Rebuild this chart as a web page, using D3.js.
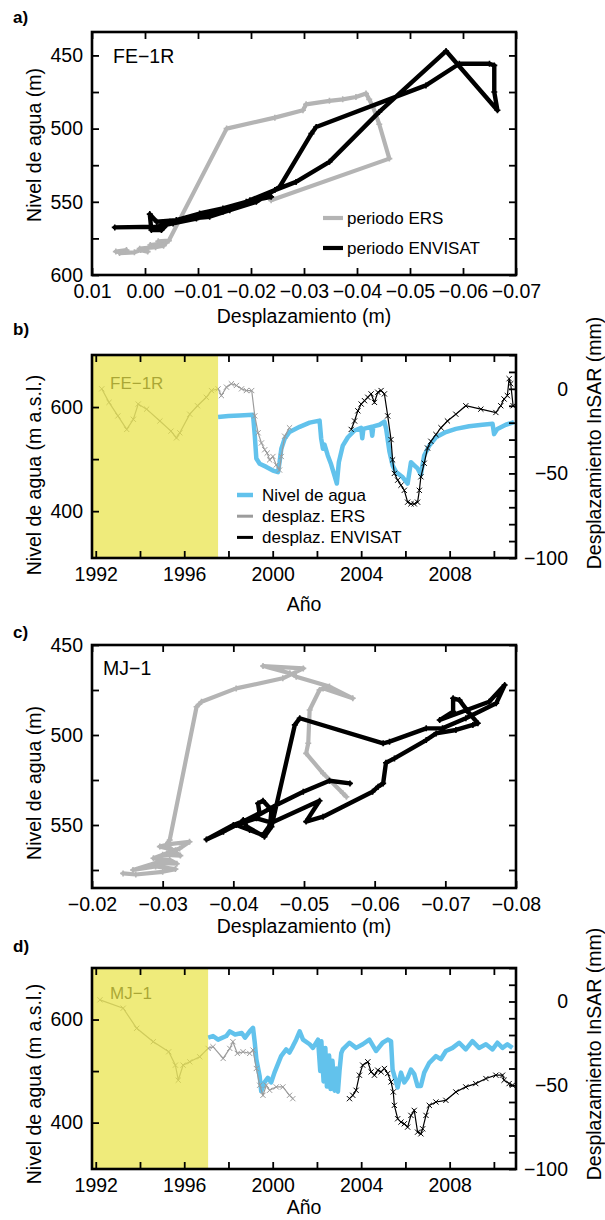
<!DOCTYPE html>
<html><head><meta charset="utf-8">
<script src="https://cdn.jsdelivr.net/npm/d3@7"></script>
<style>body{margin:0;background:#fff}</style>
</head><body><svg id="c" width="605" height="1220"></svg>
<script>
// ---------- DATA ----------
// Panel a: FE-1R, water level vs displacement
const aErs = [[0.0055,584],[0.0035,583],[0.0048,585],[0.002,584.5],[0.0008,583],[-0.0005,584],[0.001,582],[-0.002,581],[-0.0035,580],[-0.001,579.5],[-0.004,578],[-0.0025,577],[-0.0045,576.5],[-0.0154,500],[-0.0245,492.5],[-0.0298,487.5],[-0.0304,483.4],[-0.0348,481],[-0.0373,480],[-0.0398,478.4],[-0.0417,476],[-0.0423,480],[-0.0430,485],[-0.0442,497],[-0.0461,520.5],[-0.0238,549]];
const aEnv = [[-0.0238,546.6],[-0.0191,550],[-0.0147,554.5],[-0.0103,558],[-0.0059,562.5],[-0.0022,563.6],[-0.0009,558.4],[-0.0012,569.3],[-0.0031,569.3],[-0.0047,563.6],[-0.0085,561.4],[-0.0122,560.2],[-0.0160,555.7],[-0.0210,550],[-0.0254,539.8],[-0.0314,503.4],[-0.0323,498.9],[-0.0530,470.5],[-0.0593,455.7],[-0.0650,455.7],[-0.0659,456.8],[-0.0659,475],[-0.0665,487.5],[-0.0568,447],[-0.0442,488.6],[-0.0348,522.7],[-0.0285,536.4],[-0.0245,542],[-0.0198,548.9],[-0.0147,556.8],[-0.0097,561.4],[-0.0053,564.8],[-0.0022,567],[0.0057,567.5]];
// Panel b: FE-1R time series
const bLevel = [[1997.53,581],[1998.0,583],[1998.5,584],[1999.11,585],[1999.19,545],[1999.26,501],[1999.41,491],[1999.71,485],[2000.01,478],[2000.24,475],[2000.31,494],[2000.39,520],[2000.54,539],[2000.76,552],[2001.22,562],[2001.67,570],[2002.12,574],[2002.19,540],[2002.27,520],[2002.34,528],[2002.49,507],[2002.64,490],[2002.79,469],[2002.9,453],[2002.99,494],[2003.17,526],[2003.4,542],[2003.7,555],[2004.0,560],[2004.05,540],[2004.1,558],[2004.45,562],[2004.5,545],[2004.55,563],[2004.83,566],[2005.05,572],[2005.13,558],[2005.28,514],[2005.42,488],[2005.58,475],[2005.88,465],[2006.10,453],[2006.25,494],[2006.40,488],[2006.55,482],[2006.70,470],[2006.85,507],[2007.08,526],[2007.38,542],[2007.83,552],[2008.28,558],[2008.88,563],[2009.48,566],[2009.94,568],[2010.01,548],[2010.16,558],[2010.54,566],[2010.91,571]];
const bErs = [[1992.27,0],[1992.6,-8],[1993.0,-16],[1993.4,-24],[1993.7,-18],[1993.92,-9],[1994.3,-12],[1994.9,-19],[1995.4,-25],[1995.65,-29],[1995.8,-26],[1996.25,-15],[1996.6,-10],[1997.0,-5],[1997.23,-1],[1997.53,0],[1997.68,-4],[1997.91,1],[1998.13,3],[1998.36,2],[1998.59,0],[1998.81,-1],[1999.05,-1],[1999.19,-16],[1999.34,-26],[1999.49,-32],[1999.64,-36],[1999.75,-38],[1999.86,-42],[2000.01,-40],[2000.16,-45],[2000.31,-48],[2000.39,-40],[2000.54,-28],[2000.76,-23]];
const bEnv = [[2003.55,-24],[2003.70,-19],[2003.85,-13],[2004.0,-9],[2004.15,-7],[2004.3,-5],[2004.45,-3],[2004.6,-8],[2004.75,-2],[2004.9,-1],[2005.05,-3],[2005.2,-16],[2005.35,-30],[2005.42,-42],[2005.5,-50],[2005.65,-54],[2005.8,-57],[2005.95,-60],[2006.1,-67],[2006.25,-68],[2006.4,-68],[2006.55,-67],[2006.63,-60],[2006.7,-52],[2006.85,-44],[2007.0,-35],[2007.15,-31],[2007.38,-27],[2007.61,-23],[2007.9,-19],[2008.28,-15],[2008.73,-10],[2009.41,-12],[2010.09,-14],[2010.31,-10],[2010.46,-6],[2010.61,-4],[2010.69,6],[2010.76,3],[2010.87,-10]];
// Panel c: MJ-1, water level vs displacement
const cErs = [[-0.0244,576.9],[-0.0262,577.5],[-0.0300,576],[-0.0318,574.5],[-0.0290,573],[-0.0258,575],[-0.0291,571],[-0.0320,571.5],[-0.031,569.4],[-0.0287,568.5],[-0.0306,565.7],[-0.0324,563],[-0.0338,559.3],[-0.031,560.6],[-0.0296,562],[-0.0318,564],[-0.0300,566.5],[-0.0325,567],[-0.0305,561],[-0.031,558.3],[-0.0348,484.3],[-0.0355,481.5],[-0.0404,474.1],[-0.047,468.5],[-0.0499,463],[-0.0442,461.7],[-0.048,465.7],[-0.0489,467.6],[-0.0536,473.1],[-0.0569,479.6],[-0.0527,474.1],[-0.0522,475],[-0.0508,486.1],[-0.0506,504.6],[-0.0503,510.2],[-0.0527,521.3],[-0.0555,532.4],[-0.056,534.3]];
const cEnv = [[-0.0565,526.9],[-0.0536,525.4],[-0.0499,531.5],[-0.0461,538.9],[-0.0433,545],[-0.0400,550],[-0.0362,558],[-0.0386,553.7],[-0.0414,548.1],[-0.0437,543.5],[-0.0435,538],[-0.0442,536.5],[-0.0454,541.7],[-0.0452,550],[-0.0442,555.6],[-0.0423,552.8],[-0.0404,550],[-0.0433,546.3],[-0.0454,548.7],[-0.0522,536.5],[-0.0503,548.1],[-0.0527,545.4],[-0.0597,531.5],[-0.0605,528.7],[-0.0612,526.9],[-0.0616,515.4],[-0.0628,513],[-0.0673,502.8],[-0.0687,499.1],[-0.0715,497.2],[-0.0739,494.4],[-0.0746,493.5],[-0.0734,488],[-0.0720,480.6],[-0.0711,479.6],[-0.0711,487],[-0.0692,491.7],[-0.0762,481.5],[-0.0784,472.2],[-0.0772,482.4],[-0.0729,490.7],[-0.0696,496.3],[-0.0673,496.3],[-0.0621,503.7],[-0.0612,504.6],[-0.0494,490.7],[-0.0487,494.4],[-0.0454,550.9],[-0.0444,556.5],[-0.0419,550.9],[-0.0414,547.2]];
// Panel d: MJ-1 time series
const dLevel = [[1997.08,565],[1997.3,568],[1997.53,561],[1997.9,568],[1998.06,577],[1998.3,571],[1998.6,574],[1998.75,565],[1998.96,577],[1999.11,584],[1999.19,555],[1999.26,523],[1999.41,490],[1999.48,461],[1999.63,478],[1999.78,487],[1999.93,478],[2000.08,497],[2000.23,513],[2000.38,529],[2000.61,542],[2000.76,536],[2000.91,548],[2001.06,561],[2001.22,577],[2001.37,561],[2001.67,552],[2001.82,545],[2002.05,561],[2002.15,500],[2002.2,558],[2002.3,480],[2002.38,545],[2002.45,470],[2002.55,530],[2002.62,465],[2002.7,520],[2002.8,462],[2002.88,505],[2002.95,460],[2003.02,500],[2003.1,535],[2003.17,542],[2003.47,555],[2003.77,545],[2004.07,552],[2004.37,561],[2004.67,539],[2004.97,555],[2005.2,561],[2005.35,558],[2005.42,503],[2005.65,468],[2005.8,497],[2005.95,478],[2006.1,487],[2006.25,503],[2006.4,494],[2006.55,471],[2006.7,471],[2006.85,497],[2007.08,516],[2007.38,529],[2007.6,523],[2007.83,539],[2008.13,545],[2008.43,555],[2008.73,542],[2009.03,558],[2009.33,545],[2009.64,552],[2009.94,542],[2010.16,555],[2010.39,545],[2010.61,552],[2010.84,545]];
const dErs = [[1992.19,1],[1993.24,-4],[1993.85,-16],[1994.6,-24],[1995.3,-30],[1995.6,-38],[1995.73,-47],[1995.95,-38],[1996.25,-36],[1996.7,-33],[1997.08,-28],[1997.3,-27],[1997.76,-34],[1998.06,-28],[1998.2,-24],[1998.4,-31],[1998.66,-30],[1998.96,-31],[1999.11,-29],[1999.26,-40],[1999.41,-50],[1999.56,-56],[1999.71,-50],[1999.86,-53],[2000.16,-51],[2000.46,-51],[2000.76,-56],[2000.91,-58]];
const dEnv = [[2003.47,-58],[2003.62,-56],[2003.77,-53],[2003.92,-44],[2004.07,-38],[2004.3,-36],[2004.45,-42],[2004.6,-44],[2004.75,-41],[2004.9,-42],[2005.05,-40],[2005.2,-43],[2005.35,-48],[2005.45,-54],[2005.5,-62],[2005.65,-70],[2005.8,-72],[2005.95,-73],[2006.1,-75],[2006.25,-68],[2006.4,-65],[2006.55,-78],[2006.7,-79],[2006.78,-76],[2006.93,-68],[2007.08,-62],[2007.38,-60],[2007.83,-59],[2008.28,-54],[2008.73,-51],[2009.18,-49],[2009.64,-46],[2010.09,-44],[2010.39,-44],[2010.46,-47],[2010.69,-49],[2010.84,-50]];

// Ticks / labels
const aXTicks = [0.01,0,-0.01,-0.02,-0.03,-0.04,-0.05,-0.06,-0.07];
const aYTicks = [450,475,500,525,550,575,600];
const aYLabels = [450,500,550,600];
const cXTicks = [-0.02,-0.03,-0.04,-0.05,-0.06,-0.07,-0.08];
const cYTicks = [450,475,500,525,550,575];
const cYLabels = [450,500,550];
const yearTicks = [1992,1994,1996,1998,2000,2002,2004,2006,2008,2010];
const yearLabels = [1992,1996,2000,2004,2008];
const levelTicks = [400,500,600];
const levelLabels = [400,600];
const mmTicks = [-100,-90,-80,-70,-60,-50,-40,-30,-20,-10,0,10,20];
const mmLabels = [0,-50,-100];
const legendA = ["periodo ERS","periodo ENVISAT"];
const legendB = ["Nivel de agua","desplaz. ERS","desplaz. ENVISAT"];

// ---------- STYLE ----------
const FONT = '"Liberation Sans", Arial, Helvetica, sans-serif';
const FS = 19.5;
const GRAY_THICK = "#b4b4b4", BLUE = "#62c2ec", GRAY_THIN = "#9c9c9c";
const L = 92, R = 516;
const minus = v => (v < 0 ? "\u2212" : "") + Math.abs(v);
const fmt2 = v => (v < 0 ? "\u2212" : "") + Math.abs(v).toFixed(2);

const svg = d3.select("#c");

function styleAxis(g) {
  g.select(".domain").remove();
  g.attr("font-family", FONT).attr("font-size", FS);
  g.selectAll(".tick line").attr("stroke", "#000").attr("stroke-width", 1.8);
  g.selectAll(".tick text").attr("fill", "#000");
}

function frameAxes(x, y, top, bot, xt, xf, yt, yf) {
  const g = svg.append("g");
  g.append("g").attr("transform", `translate(0,${bot})`)
    .call(d3.axisBottom(x).tickValues(xt).tickSize(-7).tickPadding(9).tickFormat(xf)).call(styleAxis);
  g.append("g").attr("transform", `translate(0,${top})`)
    .call(d3.axisTop(x).tickValues(xt).tickSize(-7).tickFormat("")).call(styleAxis);
  g.append("g").attr("transform", `translate(${L},0)`)
    .call(d3.axisLeft(y).tickValues(yt).tickSize(-7).tickPadding(9).tickFormat(yf)).call(styleAxis);
  return g;
}

function frameRect(top, bot) {
  svg.append("rect").attr("x", L).attr("y", top).attr("width", R - L).attr("height", bot - top)
    .attr("fill", "none").attr("stroke", "#000").attr("stroke-width", 2.6);
}

function text(x, y, s, opt = {}) {
  const t = svg.append("text").attr("x", x).attr("y", y).text(s)
    .attr("font-family", FONT).attr("font-size", opt.size || FS)
    .attr("fill", opt.fill || "#000").attr("text-anchor", opt.anchor || "start");
  if (opt.bold) t.attr("font-weight", "bold");
  if (opt.rot) t.attr("transform", `rotate(-90,${x},${y})`);
  return t;
}

function thickLine(x, y, data, color, w) {
  svg.append("path").datum(data)
    .attr("d", d3.line().x(d => x(d[0])).y(d => y(d[1])))
    .attr("fill", "none").attr("stroke", color).attr("stroke-width", w)
    .attr("stroke-linejoin", "round").attr("stroke-linecap", "round");
  svg.append("g").selectAll("path").data(data).join("path")
    .attr("d", d => { const px = x(d[0]), py = y(d[1]);
      return `M${px-3},${py}L${px+3},${py}M${px},${py-3}L${px},${py+3}`; })
    .attr("stroke", color).attr("stroke-width", 1.6);
}

function markedLine(x, y, data, color) {
  svg.append("path").datum(data)
    .attr("d", d3.line().x(d => x(d[0])).y(d => y(d[1])))
    .attr("fill", "none").attr("stroke", color).attr("stroke-width", 1.2);
  svg.append("g").selectAll("path").data(data).join("path")
    .attr("d", d => { const px = x(d[0]), py = y(d[1]);
      return `M${px-2.6},${py-2.6}L${px+2.6},${py+2.6}M${px-2.6},${py+2.6}L${px+2.6},${py-2.6}`; })
    .attr("stroke", color).attr("stroke-width", 1);
}

// ---------- PANEL (scatter) ----------
function scatterPanel(o) {
  const x = d3.scaleLinear().domain(o.xd).range([L, R]);
  const y = d3.scaleLinear().domain(o.yd).range([o.top, o.bot]);
  thickLine(x, y, o.ers, GRAY_THICK, 4.2);
  thickLine(x, y, o.env, "#000", 4.4);
  frameAxes(x, y, o.top, o.bot, o.xt, fmt2, o.yt, v => o.yl.includes(v) ? v : "");
  svg.append("g").attr("transform", `translate(${R},0)`)
    .call(d3.axisRight(y).tickValues(o.yt).tickSize(-7).tickFormat("")).call(styleAxis);
  frameRect(o.top, o.bot);
  text(o.lab[0], o.lab[1], o.name);
  text(13, o.tag[1], o.tag[0], {size: 17, bold: true});
  text(304, o.xtitleY, "Desplazamiento (m)", {anchor: "middle"});
  text(41, o.ytitleY, "Nivel de agua (m)", {anchor: "middle", rot: true});
  if (o.legend) {
    const cols = [GRAY_THICK, "#000"];
    o.legend.forEach((s, i) => {
      const ly = o.legend.y0 + i * 30;
      svg.append("line").attr("x1", 323).attr("x2", 343).attr("y1", ly).attr("y2", ly)
        .attr("stroke", cols[i]).attr("stroke-width", 4.2);
      text(347, ly + 6, s, {size: 17});
    });
  }
}

// ---------- PANEL (time series) ----------
function seriesPanel(o) {
  const x = d3.scaleLinear().domain([1991.83, 2011.0]).range([L, R]);
  const yl = d3.scaleLinear().domain([310, 700]).range([o.bot, o.top]);
  const yr = d3.scaleLinear().domain([-100, 20]).range([o.bot, o.top]);
  svg.append("path").datum(o.level)
    .attr("d", d3.line().x(d => x(d[0])).y(d => yl(d[1])))
    .attr("fill", "none").attr("stroke", BLUE).attr("stroke-width", 4.5).attr("stroke-linejoin", "round");
  markedLine(x, yr, o.ers, GRAY_THIN);
  markedLine(x, yr, o.env, "#000");
  text(110, o.nameY, o.name, {size: 17, fill: "#2a2a2a"});
  // ERS-only shaded period
  svg.append("rect").attr("x", L).attr("y", o.top).attr("width", x(o.shadeEnd) - L)
    .attr("height", o.bot - o.top).attr("fill", "#e8e23c").attr("opacity", 0.68);
  frameAxes(x, yl, o.top, o.bot, yearTicks, v => yearLabels.includes(v) ? v : "", levelTicks,
    v => levelLabels.includes(v) ? v : "");
  const ra = svg.append("g").attr("transform", `translate(${R},0)`)
    .call(d3.axisRight(yr).tickValues(mmTicks).tickSize(-7).tickPadding(9)
      .tickFormat(v => mmLabels.includes(v) ? minus(v) : "")).call(styleAxis);
  ra.selectAll(".tick text").attr("text-anchor", "end").attr("x", 52);
  frameRect(o.top, o.bot);
  text(13, o.tag[1], o.tag[0], {size: 17, bold: true});
  text(304, o.xtitleY, "Año", {anchor: "middle"});
  text(41, o.ytitleY, "Nivel de agua (m a.s.l.)", {anchor: "middle", rot: true});
  text(601, o.rtitleY, "Desplazamiento InSAR (mm)", {anchor: "middle", rot: true});
  if (o.legend) {
    const cols = [BLUE, GRAY_THIN, "#000"], ws = [4.5, 3, 3];
    o.legend.forEach((s, i) => {
      const ly = 495 + i * 21.2;
      svg.append("line").attr("x1", 237).attr("x2", 253).attr("y1", ly).attr("y2", ly)
        .attr("stroke", cols[i]).attr("stroke-width", ws[i]);
      text(262, ly + 6, s, {size: 17});
    });
  }
}

const legA = legendA.slice(); legA.y0 = 218;
scatterPanel({xd: [0.01, -0.07], yd: [434, 600], top: 32, bot: 275, ers: aErs, env: aEnv,
  xt: aXTicks, yt: aYTicks, yl: aYLabels, name: "FE\u22121R", lab: [113, 63], tag: ["a)", 23],
  xtitleY: 323, ytitleY: 145, legend: legA});
seriesPanel({top: 355, bot: 558, level: bLevel, ers: bErs, env: bEnv, shadeEnd: 1997.53,
  name: "FE\u22121R", nameY: 389, tag: ["b)", 335], xtitleY: 611, ytitleY: 475, rtitleY: 443, legend: legendB});
scatterPanel({xd: [-0.02, -0.08], yd: [450, 585], top: 645, bot: 888, ers: cErs, env: cEnv,
  xt: cXTicks, yt: cYTicks, yl: cYLabels, name: "MJ\u22121", lab: [103, 675], tag: ["c)", 638],
  xtitleY: 933, ytitleY: 783});
seriesPanel({top: 968, bot: 1169, level: dLevel, ers: dErs, env: dEnv, shadeEnd: 1997.08,
  name: "MJ\u22121", nameY: 999, tag: ["d)", 952], xtitleY: 1214, ytitleY: 1084, rtitleY: 1054});
</script></body></html>
